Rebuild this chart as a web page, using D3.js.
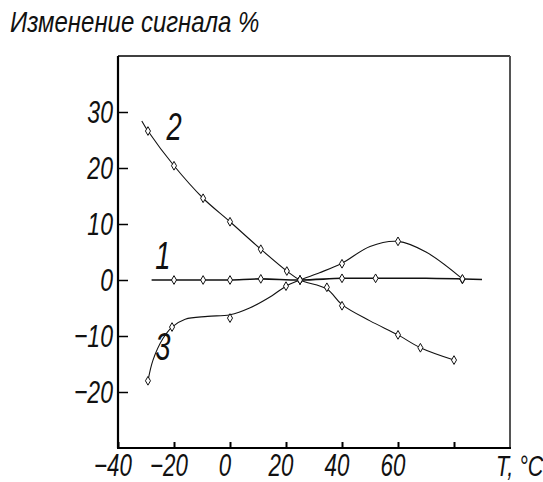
<!DOCTYPE html>
<html><head><meta charset="utf-8">
<script src="https://cdn.jsdelivr.net/npm/d3@7"></script>
<style>
body{margin:0;background:#fff;}
text{font-family:"Liberation Sans",Arial,sans-serif;font-style:italic;fill:#111;}
</style></head>
<body><svg id="c" width="543" height="482"></svg>
<script>
// ---- data ----
const title = "Изменение сигнала  %";
const xAxisLabel = "T, °C";
const xTicks = [-40, -20, 0, 20, 40, 60, 80];
const xTickLabels = ["−40", "−20", "0", "20", "40", "60", ""];
const yTicks = [-20, -10, 0, 10, 20, 30];
const yTickLabels = ["−20", "−10", "0", "10", "20", "30"];
const seriesNames = ["1", "2", "3"];
// curve 1
const line1 = [[-28,0],[-20,0],[-9.6,0],[0,0],[11,0.2],[25,0],[40,0.3],[52,0.3],[70,0.3],[90,0.1]];
const marks1 = [[-20,0],[-9.6,0],[0,0],[11,0.2],[25,0],[40,0.3],[52,0.3],[83,0.1]];
// curve 2
const line2 = [[-31.5,28.4],[-29.3,26.6],[-20,20.4],[-9.6,14.6],[0,10.4],[11,5.5],[20.3,1.6],[25,0],[34.6,-1.6],[40,-4.4],[50,-7.3],[60,-9.8],[68,-12.1],[80,-14.3]];
const marks2 = [[-29.3,26.6],[-20,20.4],[-9.6,14.6],[0,10.4],[11,5.5],[20.3,1.6],[25,0],[34.6,-1.3],[40,-4.6],[60,-9.8],[68,-12.1],[80,-14.3]];
// curve 3
const line3 = [[-29.3,-18],[-27.5,-14.3],[-24,-10.5],[-20.7,-8.4],[-16,-7],[-8,-6.5],[0,-6.2],[7,-5],[15,-2.8],[20,-1.1],[25,0],[32,1.3],[40,3],[50,6],[60,6.9],[70,5],[83,0.2]];
const marks3 = [[-29.3,-18],[-20.7,-8.4],[0,-6.8],[20,-1.1],[25,0],[40,2.9],[60,6.9],[83,0.2]];
// label anchor points (data coords)
const labelPos = [[-24,2],[-20,25],[-24,-14.3]];

// ---- drawing ----
const svg = d3.select("#c");
const x = d3.scaleLinear().domain([-40, 100]).range([118, 510]);
const y = d3.scaleLinear().domain([-30, 40]).range([448, 56]);
function label(px, py, str, size, anchor, sx) {
  return svg.append("text")
    .attr("transform", `translate(${px},${py}) scale(${sx || 0.72},1)`)
    .attr("text-anchor", anchor || "start").attr("font-size", size).text(str);
}

label(10, 32, title, 30, "start", 0.8);

// frame
svg.append("line").attr("x1", x(-40)).attr("x2", x(100)).attr("y1", y(40)).attr("y2", y(40)).attr("stroke", "#000").attr("stroke-width", 1.5);
svg.append("line").attr("x1", x(100)).attr("x2", x(100)).attr("y1", y(40)).attr("y2", y(-30)).attr("stroke", "#555").attr("stroke-width", 2);

// axes
const yAxis = d3.axisRight(y).tickValues(yTicks).tickSize(10).tickFormat("");
const gy = svg.append("g").attr("transform", `translate(${x(-40)},0)`).call(yAxis);
gy.select(".domain").remove();
gy.selectAll(".tick line").attr("stroke", "#000").attr("stroke-width", 1.5);
svg.append("line").attr("x1", x(-40)).attr("x2", x(-40)).attr("y1", y(40)).attr("y2", y(-30)).attr("stroke", "#000").attr("stroke-width", 2.2);

const xAxis = d3.axisTop(x).tickValues(xTicks).tickSize(6).tickFormat("");
const gx = svg.append("g").attr("transform", `translate(0,${y(-30)})`).call(xAxis);
gx.select(".domain").remove();
gx.selectAll(".tick line").attr("stroke", "#000").attr("stroke-width", 2);
svg.append("line").attr("x1", x(-40) - 1).attr("x2", x(100) + 1).attr("y1", y(-30)).attr("y2", y(-30)).attr("stroke", "#000").attr("stroke-width", 2.2);

yTicks.forEach((d, i) => label(113, y(d) + 11, yTickLabels[i], 32, "end"));
xTicks.forEach((d, i) => label(x(d) - 5, 476, xTickLabels[i], 31, "middle"));
label(496, 476, xAxisLabel, 30);

// curves
const gen = d3.line().x(d => x(d[0])).y(d => y(d[1])).curve(d3.curveCatmullRom.alpha(0.5));
[line1, line2, line3].forEach((ln, i) => {
  svg.append("path").attr("d", gen(ln)).attr("fill", "none").attr("stroke", "#111")
    .attr("stroke-width", i === 0 ? 1.6 : 1.1);
});
const sym = d3.symbol().type(d3.symbolDiamond).size(22);
[marks1, marks2, marks3].forEach(m => {
  svg.append("g").selectAll("path").data(m).join("path")
    .attr("transform", d => `translate(${x(d[0])},${y(d[1])})`)
    .attr("d", sym).attr("fill", "#fff").attr("stroke", "#111").attr("stroke-width", 1);
});
seriesNames.forEach((s, i) => label(x(labelPos[i][0]), y(labelPos[i][1]), s, 38, "middle"));
</script></body></html>
